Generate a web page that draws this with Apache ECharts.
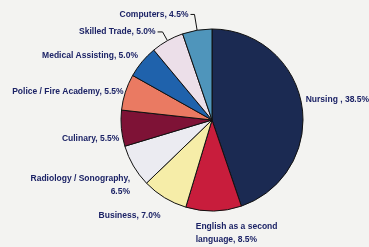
<!DOCTYPE html>
<html>
<head>
<meta charset="utf-8">
<script src="https://cdn.jsdelivr.net/npm/echarts@6/dist/echarts.min.js"></script>
<style>
  html, body { margin: 0; padding: 0; background: #f3f3f1; }
  #chart { width: 369px; height: 247px; }
</style>
</head>
<body>
<div id="chart"></div>
<script>
  // 数据：顺时针从12点方向开始
  var programs = ['Nursing ', 'English as a second\nlanguage', 'Business', 'Radiology / Sonography,\n', 'Culinary', 'Police / Fire Academy', 'Medical Assisting', 'Skilled Trade', 'Computers'];
  var percents = [38.5, 8.5, 7.0, 6.5, 5.5, 5.5, 5.0, 5.0, 4.5];
  var sliceColors = ['#1b2a52', '#c81d3c', '#f6eda8', '#ebebf1', '#7e1236', '#ea7a62', '#1f62ac', '#ecdfe9', '#4f95bb'];
  // 标签微调 [dx, dy]
  var labelNudge = [[-2, -5], [-20, 18], [0, 15], [2, 17], [4, 10], [4, 1], [1, -4], [0, 0], [0, 0]];

  var chart = echarts.init(document.getElementById('chart'));

  var pieData = programs.map(function (name, i) {
    var item = { name: name, value: percents[i], itemStyle: { color: sliceColors[i] } };
    // 只有这两项显示引导线
    if (name === 'Computers') {
      item.labelLine = { show: true, length: 16, length2: 4 };
    } else if (name === 'Skilled Trade') {
      item.labelLine = { show: true, length: 10, length2: 5 };
    }
    return item;
  });

  var option = {
    backgroundColor: '#f3f3f1',
    animation: false,
    series: [
      {
        type: 'pie',
        center: [212, 120],
        radius: 91,
        startAngle: 90,
        clockwise: true,
        avoidLabelOverlap: false,
        data: pieData,
        itemStyle: {
          borderColor: '#111',
          borderWidth: 1
        },
        label: {
          show: true,
          position: 'outside',
          color: '#1c2366',
          fontFamily: 'Liberation Sans, Arial, sans-serif',
          fontWeight: 'bold',
          fontSize: 8.5,
          lineHeight: 12.5,
          align: 'center',
          distanceToLabelLine: 2,
          formatter: function (p) {
            var v = p.value.toFixed(1) + '%';
            if (p.name.slice(-1) === '\n') {
              return p.name + v;
            }
            return p.name + ', ' + v;
          }
        },
        labelLine: {
          show: false,
          length: 4,
          length2: 0,
          lineStyle: { color: '#111', width: 1 }
        },
        labelLayout: function (params) {
          var o = labelNudge[params.dataIndex];
          return { dx: o[0], dy: o[1], hideOverlap: false, moveOverlap: null };
        }
      }
    ]
  };

  chart.setOption(option);
</script>
</body>
</html>
